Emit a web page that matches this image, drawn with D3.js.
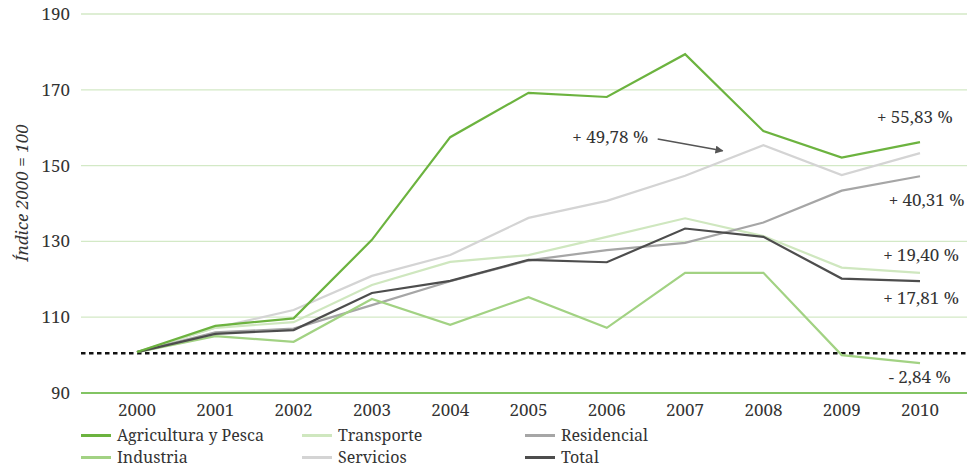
<!DOCTYPE html>
<html><head><meta charset="utf-8">
<script src="https://cdn.jsdelivr.net/npm/d3@7"></script>
<style>body{margin:0;background:#fff}svg{display:block}</style>
</head><body><svg id="c" width="967" height="472" font-family="Noto Serif" fill="#333"></svg>
<script>
const years = [2000,2001,2002,2003,2004,2005,2006,2007,2008,2009,2010];
const agricultura = [100.8,107.7,109.7,130.4,157.5,169.2,168.1,179.4,159.1,152.1,156.2];
const industria   = [100.8,105.0,103.5,114.8,108.0,115.3,107.2,121.7,121.7,100.0,97.9];
const transporte  = [100.8,107.2,108.7,118.5,124.6,126.4,131.2,136.1,131.4,123.1,121.7];
const servicios   = [100.8,107.2,111.9,120.9,126.4,136.2,140.7,147.3,155.4,147.5,153.3];
const residencial = [100.8,106.0,107.0,113.2,119.5,125.0,127.7,129.6,135.0,143.4,147.2];
const total       = [100.8,105.6,106.6,116.4,119.6,125.1,124.5,133.4,131.2,120.2,119.5];
const seriesNames = ["Agricultura y Pesca","Transporte","Residencial","Industria","Servicios","Total"];
const yTicks = [90,110,130,150,170,190];
const baseline = 100.5;
const annotationTexts = ["+ 55,83 %","+ 40,31 %","+ 19,40 %","+ 17,81 %","- 2,84 %"];
const annotationYears = [2009.45,2009.6,2009.53,2009.53,2009.6];
const annotationValues = [162.8,140.9,126.4,115.1,94.2];
const arrowText = "+ 49,78 %";
const arrowTextAt = [2005.56,157.5];
const arrowFrom = [2006.65,157.0];
const arrowTo = [2007.48,153.9];

const svg = d3.select("#c");
const x = d3.scaleLinear().domain([2000,2010]).range([137,920]);
const y = d3.scaleLinear().domain([90,190]).range([393,14]);
const colors = {
  "Agricultura y Pesca":"#6cb33f","Transporte":"#cfe7bf","Residencial":"#a6a6a6",
  "Industria":"#a2d283","Servicios":"#d4d4d4","Total":"#4d4d4d"};
const dataMap = {"Agricultura y Pesca":agricultura,"Transporte":transporte,"Residencial":residencial,
  "Industria":industria,"Servicios":servicios,"Total":total};

// grid
svg.append("g").selectAll("line").data(yTicks.filter(d=>d!==90)).join("line")
  .attr("x1",81).attr("x2",967).attr("y1",d=>y(d)).attr("y2",d=>y(d))
  .attr("stroke","#d3e9c6").attr("stroke-width",1.3);
svg.append("line").attr("x1",81).attr("x2",967).attr("y1",y(90)).attr("y2",y(90))
  .attr("stroke","#82c463").attr("stroke-width",2);
// y labels
svg.append("g").selectAll("text").data(yTicks).join("text")
  .attr("x",70).attr("y",d=>y(d)).attr("dy","0.35em").attr("text-anchor","end")
  .attr("font-size",17).text(d=>d);
// x labels
svg.append("g").selectAll("text").data(years).join("text")
  .attr("x",d=>x(d)).attr("y",410).attr("dy","0.35em").attr("text-anchor","middle")
  .attr("font-size",17).text(d=>d);
// y title
svg.append("text").attr("transform","translate(22,193) rotate(-90)").attr("text-anchor","middle")
  .attr("dy","0.35em").attr("font-size",17).attr("font-style","italic").text("Índice 2000 = 100");
// baseline
svg.append("line").attr("x1",81).attr("x2",967).attr("y1",y(baseline)).attr("y2",y(baseline))
  .attr("stroke","#111").attr("stroke-width",2.6).attr("stroke-dasharray","4.5,3.5");

const order = ["Servicios","Transporte","Residencial","Industria","Total","Agricultura y Pesca"];
const line = d3.line().x((d,i)=>x(years[i])).y(d=>y(d));
svg.append("g").selectAll("path").data(order).join("path")
  .attr("d",k=>line(dataMap[k])).attr("fill","none").attr("stroke",k=>colors[k])
  .attr("stroke-width",2.2).attr("stroke-linejoin","miter");

// annotations
svg.append("g").selectAll("text").data(annotationTexts).join("text")
  .attr("x",(d,i)=>x(annotationYears[i])).attr("y",(d,i)=>y(annotationValues[i])).attr("dy","0.35em")
  .attr("font-size",17).text(d=>d);
svg.append("text").attr("x",x(arrowTextAt[0])).attr("y",y(arrowTextAt[1])).attr("dy","0.35em")
  .attr("font-size",17).text(arrowText);
svg.append("defs").append("marker").attr("id","ah").attr("viewBox","0 0 10 10").attr("refX",9).attr("refY",5)
  .attr("markerWidth",5).attr("markerHeight",5).attr("orient","auto")
  .append("path").attr("d","M0,0L10,5L0,10z").attr("fill","#555");
svg.append("line").attr("x1",x(arrowFrom[0])).attr("y1",y(arrowFrom[1])).attr("x2",x(arrowTo[0])).attr("y2",y(arrowTo[1]))
  .attr("stroke","#555").attr("stroke-width",1.6).attr("marker-end","url(#ah)");

// legend
const legPos = [[81,435.5],[302,435.5],[525,435.5],[81,457.5],[302,457.5],[525,457.5]];
const lg = svg.append("g").selectAll("g").data(seriesNames).join("g")
  .attr("transform",(d,i)=>`translate(${legPos[i][0]},${legPos[i][1]})`);
lg.append("line").attr("x1",0).attr("x2",30).attr("stroke",d=>colors[d]).attr("stroke-width",3);
lg.append("text").attr("x",36).attr("dy","0.35em").attr("font-size",16).attr("textLength",null).text(d=>d);
</script></body></html>
